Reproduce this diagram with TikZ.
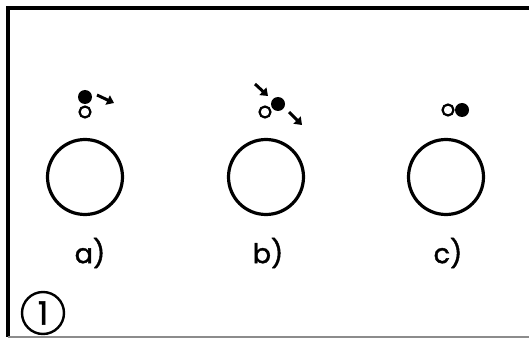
\documentclass[tikz,border=0pt]{standalone}
\usepackage{fontspec}
\setmainfont{Poppins}
\newfontfamily\labfont[FakeBold=1.6]{Poppins}
\usetikzlibrary{arrows.meta}
\begin{document}
\begin{tikzpicture}[x=1pt,y=-1pt,
  big/.style={circle,draw,line width=3.2pt,minimum size=75pt,inner sep=0pt},
  full/.style={circle,fill=black,minimum size=14pt,inner sep=0pt},
  hollow/.style={circle,draw,line width=2.2pt,fill=white,minimum size=11pt,inner sep=0pt},
  lab/.style={font=\labfont\fontsize{27}{30}\selectfont,inner sep=0pt},
  move/.style={line width=3pt,-{Triangle[length=7pt,width=10pt]}},
  frame/.style={line width=3.2pt}]
\useasboundingbox (0,0) rectangle (529,339);
% frame
\coordinate (tl) at (8,8);
\coordinate (tr) at (530,8);
\coordinate (bl) at (8,337);
\coordinate (br) at (530,337);
\draw[frame] (tr) -- (tl) -- (bl);
\draw[line width=1.5pt,black!45] (bl) -- (br);
% big circles
\node[big] (A) at (85,177) {};
\node[big] (B) at (266,177) {};
\node[big] (C) at (446,177) {};
% labels
\node[lab] (la) at (90,253) {a)};
\node[lab] (lb) at (268,253) {b)};
\node[lab] (lc) at (448,253) {c)};
% a)
\node[hollow] (ao) at (85,112) {};
\node[full] (af) at (85,97) {};
\coordinate (a1) at (97,95);
\coordinate (a2) at (114,103);
\draw[move] (a1) -- (a2);
% b)
\node[hollow] (bo) at (265,112) {};
\node[full] (bf) at (278,104) {};
\coordinate (b1) at (255,84);
\coordinate (b2) at (268,96);
\coordinate (b3) at (289,112);
\coordinate (b4) at (302,125);
\draw[move] (b1) -- (b2);
\draw[move] (b3) -- (b4);
% c)
\node[hollow] (co) at (448,110) {};
\node[full] (cf) at (462,110) {};
% figure number
\node[circle,draw,line width=2.4pt,minimum size=42pt,inner sep=0pt,
      font=\labfont\fontsize{32}{34}\selectfont] (num) at (43,313) {1};
\end{tikzpicture}
\end{document}
